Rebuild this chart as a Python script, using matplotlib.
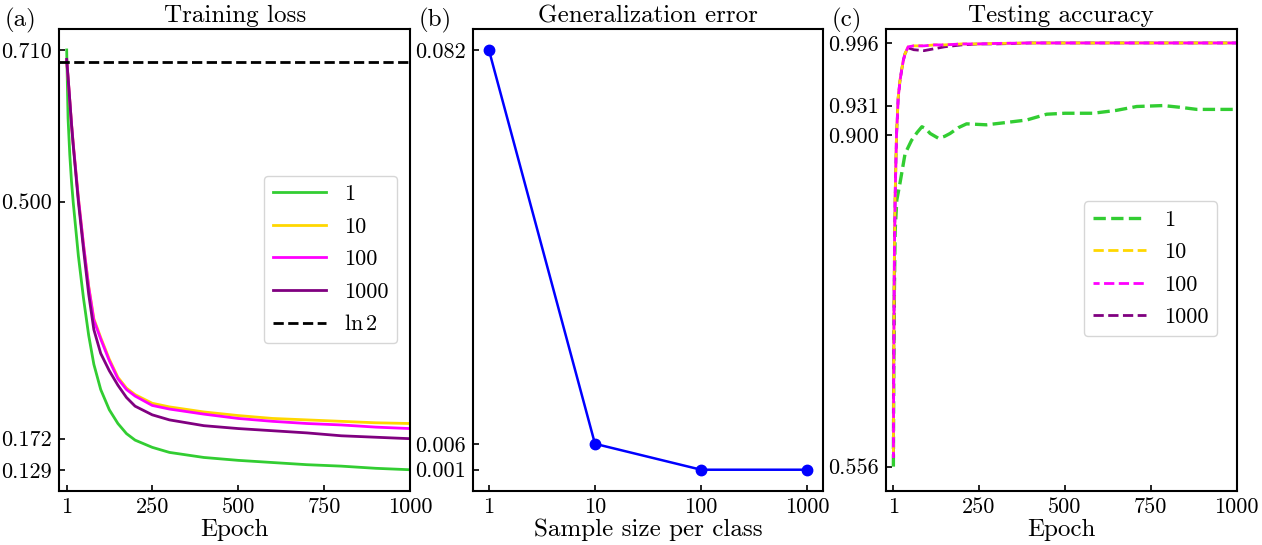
import numpy as np
import matplotlib
matplotlib.use("Agg")
import matplotlib.pyplot as plt

plt.rcParams['font.family'] = ['cmr10', 'DejaVu Serif']
plt.rcParams['mathtext.fontset'] = 'cm'
plt.rcParams['axes.formatter.use_mathtext'] = True
plt.rcParams['axes.unicode_minus'] = False

# ---------------- data ----------------
labels = ['1', '10', '100', '1000']
colors = ['#32CD32', '#FFD700', '#FF00FF', '#800080']

# (a) training loss
ep_a = [1, 5, 10, 15, 20, 35, 50, 65, 80, 100, 125, 150, 175, 200, 250, 300, 400, 500, 600,
        700, 800, 900, 1000]
loss_1 = [0.710, 0.615, 0.565, 0.528, 0.499, 0.425, 0.366, 0.315, 0.275, 0.240, 0.212, 0.193,
          0.179, 0.170, 0.160, 0.153, 0.146, 0.142, 0.139, 0.136, 0.134, 0.131, 0.129]
loss_10 = [0.695, 0.672, 0.640, 0.608, 0.580, 0.505, 0.440, 0.383, 0.338, 0.312, 0.282, 0.257,
           0.242, 0.233, 0.221, 0.216, 0.209, 0.204, 0.200, 0.198, 0.196, 0.194, 0.193]
loss_100 = [0.695, 0.672, 0.640, 0.608, 0.580, 0.505, 0.440, 0.382, 0.336, 0.310, 0.280, 0.255,
            0.240, 0.231, 0.218, 0.213, 0.206, 0.200, 0.196, 0.193, 0.191, 0.188, 0.186]
loss_1000 = [0.697, 0.672, 0.640, 0.607, 0.578, 0.500, 0.434, 0.372, 0.323, 0.290, 0.266, 0.246,
             0.229, 0.217, 0.205, 0.198, 0.190, 0.186, 0.183, 0.180, 0.176, 0.174, 0.172]
ln2 = np.log(2)
ticks_a = [0.129, 0.172, 0.500, 0.710]

# (b) generalization error
sizes = [1, 10, 100, 1000]
gen_err = [0.082, 0.006, 0.001, 0.001]

# (c) testing accuracy
ep_c1 = [1, 2, 4, 6, 11, 20, 35, 54, 70, 84, 95, 108, 132, 150, 166, 190, 214, 272, 320,
         389, 447, 500, 582, 650, 709, 786, 840, 884, 1000]
acc_1 = [0.556, 0.650, 0.740, 0.800, 0.833, 0.850, 0.881, 0.895, 0.903, 0.909, 0.907, 0.902,
         0.897, 0.899, 0.902, 0.908, 0.912, 0.911, 0.913, 0.916, 0.922, 0.923, 0.923, 0.926,
         0.930, 0.931, 0.929, 0.927, 0.927]
ep_c = [1, 2, 3, 4, 6, 10, 15, 20, 25, 30, 35, 44, 60, 90, 120, 150, 200, 250, 300, 400,
        500, 600, 700, 800, 900, 1000]
acc_10 = [0.570, 0.660, 0.730, 0.780, 0.836, 0.900, 0.940, 0.957, 0.968, 0.978, 0.985, 0.992,
          0.993, 0.993, 0.994, 0.994, 0.995, 0.995, 0.9955, 0.996, 0.996, 0.996, 0.996, 0.996,
          0.996, 0.996]
acc_100 = [0.565, 0.655, 0.728, 0.778, 0.835, 0.899, 0.939, 0.956, 0.968, 0.978, 0.985, 0.992,
           0.993, 0.993, 0.994, 0.994, 0.995, 0.995, 0.9955, 0.996, 0.996, 0.996, 0.996, 0.996,
           0.996, 0.996]
acc_1000 = [0.565, 0.655, 0.728, 0.778, 0.835, 0.899, 0.939, 0.956, 0.968, 0.978, 0.985, 0.991,
            0.989, 0.988, 0.990, 0.992, 0.994, 0.995, 0.995, 0.996, 0.996, 0.996, 0.996, 0.996,
            0.996, 0.996]
ticks_c = [0.556, 0.900, 0.931, 0.996]

# ---------------- figure ----------------
fig = plt.figure(figsize=(12.62, 5.45), dpi=100)
W, H = 1262, 545
top, bot = 29, 490.7
def make_ax(l, r):
    return fig.add_axes([l / W, 1 - bot / H, (r - l) / W, (bot - top) / H])

ax1 = make_ax(59.3, 410)
ax2 = make_ax(473, 823)
ax3 = make_ax(886, 1236.7)

TICK = 16
LAB = 18
LEG = 16
for ax in (ax1, ax2, ax3):
    ax.tick_params(direction='in', labelsize=TICK, length=4, width=1.2, pad=5)
    for s in ax.spines.values():
        s.set_linewidth(1.5)

# (a)
for y, c, l in zip([loss_1, loss_10, loss_100, loss_1000], colors, labels):
    ax1.plot(ep_a, y, color=c, lw=2, label=l)
ax1.axhline(ln2, color='black', ls='--', lw=2, label=r'$\ln 2$')
ax1.set_xlim(-20.5, 1000)
ax1.set_ylim(0.100, 0.739)
ax1.set_xticks([1, 250, 500, 750, 1000])
ax1.set_xticklabels(['1', '250', '500', '750', '1000'])
ax1.set_yticks(ticks_a)
ax1.set_yticklabels(['%.3f' % t for t in ticks_a])
ax1.set_xlabel('Epoch', fontsize=LAB, labelpad=1)
ax1.set_title('Training loss', fontsize=LAB, pad=5)
ax1.legend(fontsize=LEG, loc='center right', bbox_to_anchor=(0.963, 0.5007),
           borderaxespad=0, handlelength=2.4, labelspacing=0.58)

# (b)
ax2.plot(sizes, gen_err, color='#0000FF', lw=1.8, marker='o', markersize=7.5)
ax2.set_xscale('log')
ax2.set_xticks(sizes)
ax2.set_xticklabels([str(s) for s in sizes])
ax2.minorticks_off()
ax2.set_ylim(-0.00305, 0.08605)
ticks_b = sorted(set(gen_err))
ax2.set_yticks(ticks_b)
ax2.set_yticklabels(['%.3f' % t for t in ticks_b])
ax2.set_xlabel('Sample size per class', fontsize=LAB, labelpad=1)
ax2.set_title('Generalization error', fontsize=LAB, pad=5)

# (c)
h1, = ax3.plot(ep_c1, acc_1, color=colors[0], lw=2.4, ls='--', label=labels[0], zorder=2)
h4, = ax3.plot(ep_c, acc_1000, color=colors[3], lw=2, ls='--', label=labels[3], zorder=2.1)
h2, = ax3.plot(ep_c, acc_10, color=colors[1], lw=2, ls='--', label=labels[1], zorder=2.2)
h3, = ax3.plot(ep_c, acc_100, color=colors[2], lw=2, ls=(1.5, (3.7, 1.6)), label=labels[2], zorder=2.3)
ax3.set_xlim(-20.5, 1000)
ax3.set_ylim(0.531, 1.0105)
ax3.set_xticks([1, 250, 500, 750, 1000])
ax3.set_xticklabels(['1', '250', '500', '750', '1000'])
ax3.set_yticks(ticks_c)
ax3.set_yticklabels(['%.3f' % t for t in ticks_c])
ax3.set_xlabel('Epoch', fontsize=LAB, labelpad=1)
ax3.set_title('Testing accuracy', fontsize=LAB, pad=5)
ax3.legend([h1, h2, h3, h4], labels, fontsize=LEG, loc='center right',
           bbox_to_anchor=(0.944, 0.481), borderaxespad=0, handlelength=2.4, labelspacing=0.58)

for ax, t in zip((ax1, ax2, ax3), ['(a)', '(b)', '(c)']):
    ax.text(-0.155, 1.019, t, transform=ax.transAxes, fontsize=LAB, va='center', ha='left')

fig.savefig('out.png', dpi=100)
